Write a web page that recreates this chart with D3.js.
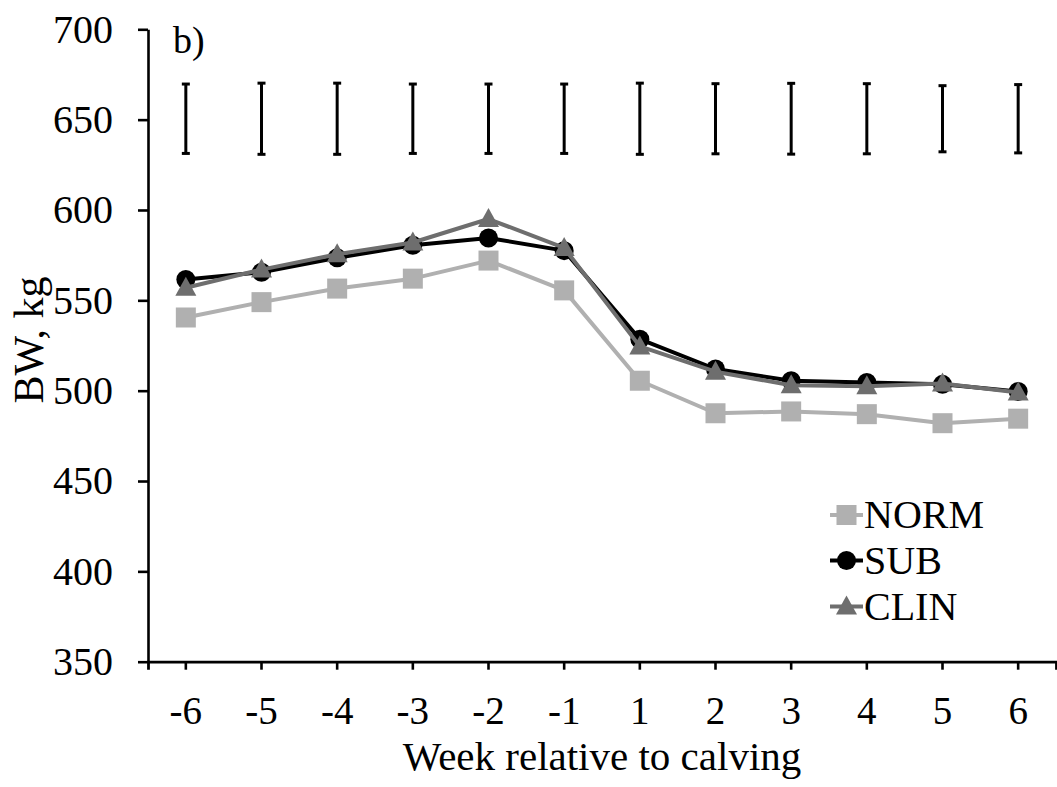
<!DOCTYPE html>
<html>
<head>
<meta charset="utf-8">
<script src="https://cdn.jsdelivr.net/npm/d3@7"></script>
<style>
  html, body { margin: 0; padding: 0; background: #fff; }
  svg { display: block; font-family: "Liberation Serif", "Times New Roman", serif; }
</style>
</head>
<body>
<svg id="chart" width="1057" height="787"></svg>
<script>
// ---- data ----
const weeks = ["-6", "-5", "-4", "-3", "-2", "-1", "1", "2", "3", "4", "5", "6"];
const normValues = [540.5, 549, 556.5, 562, 572, 555.5, 505.5, 487.5, 488.5, 487, 482, 484.5];
const subValues  = [561.5, 565.5, 573.5, 580.5, 584.5, 577.5, 528.5, 512, 505.5, 504.5, 503.5, 499.5];
const clinValues = [557, 567, 575.5, 582, 595, 579, 524.5, 510.5, 503, 502.5, 504, 499];
const errCenter = [650.5, 650.5, 650.5, 650.5, 650.5, 650.5, 650.5, 650.5, 650.5, 650.5, 650.5, 650.5];
const errSem    = [19.2, 19.7, 19.7, 19.2, 19.2, 19.2, 19.7, 19.4, 19.6, 19.4, 18.3, 18.9];
const yTicks = [350, 400, 450, 500, 550, 600, 650, 700];
const seriesNames = ["NORM", "SUB", "CLIN"];
const panelLabel = "b)";
const xTitle = "Week relative to calving";
const yTitle = "BW, kg";

// ---- layout ----
const mLeft = 148, mRight = 1056, mTop = 29.3, mBottom = 661.7;
const svg = d3.select("#chart");

const x = d3.scaleBand().domain(weeks).range([mLeft, mRight]).padding(0);
const y = d3.scaleLinear().domain([350, 700]).range([mBottom, mTop]);
const cx = w => x(w) + x.bandwidth() / 2;

const series = [
  { name: seriesNames[0], values: normValues, color: "#b0b0b0", shape: "square" },
  { name: seriesNames[1], values: subValues,  color: "#000000", shape: "circle" },
  { name: seriesNames[2], values: clinValues, color: "#6e6e6e", shape: "triangle" }
];

function drawMarker(g, shape, color, px, py) {
  if (shape === "square") {
    g.append("rect").attr("x", px - 10).attr("y", py - 10).attr("width", 20).attr("height", 20).attr("fill", color);
  } else if (shape === "circle") {
    g.append("circle").attr("cx", px).attr("cy", py).attr("r", 9.5).attr("fill", color);
  } else {
    g.append("path").attr("d", `M${px},${py - 11}L${px + 10.5},${py + 8}L${px - 10.5},${py + 8}Z`).attr("fill", color);
  }
}

// ---- axes ----
const yAxis = d3.axisLeft(y).tickValues(yTicks).tickSize(10).tickSizeOuter(0).tickPadding(25).tickFormat(d3.format("d"));
const gy = svg.append("g").attr("transform", `translate(${mLeft},0)`).call(yAxis);
gy.select(".domain").attr("stroke", "#000").attr("stroke-width", 2.6);
gy.selectAll(".tick line").attr("stroke", "#000").attr("stroke-width", 2.6);
gy.selectAll(".tick text").attr("font-size", 40).attr("font-family", "Liberation Serif").attr("fill", "#000");

const xAxis = d3.axisBottom(x).tickSize(8).tickSizeOuter(8);
const gx = svg.append("g").attr("transform", `translate(0,${mBottom})`).call(xAxis);
gx.select(".domain").attr("stroke", "#000").attr("stroke-width", 2.8);
gx.selectAll(".tick line").attr("stroke", "#000").attr("stroke-width", 2.6);
gx.selectAll(".tick text").attr("font-size", 39).attr("font-family", "Liberation Serif").attr("fill", "#000")
  .attr("y", 62).attr("dy", 0);

// ---- error bars ----
const eg = svg.append("g");
weeks.forEach((w, i) => {
  const px = cx(w);
  const yt = y(errCenter[i] + errSem[i]), yb = y(errCenter[i] - errSem[i]);
  eg.append("line").attr("x1", px).attr("x2", px).attr("y1", yt).attr("y2", yb).attr("stroke", "#000").attr("stroke-width", 3);
  eg.append("line").attr("x1", px - 4).attr("x2", px + 4).attr("y1", yt).attr("y2", yt).attr("stroke", "#000").attr("stroke-width", 3);
  eg.append("line").attr("x1", px - 4).attr("x2", px + 4).attr("y1", yb).attr("y2", yb).attr("stroke", "#000").attr("stroke-width", 3);
});

// ---- series ----
const line = d3.line().x(d => cx(d.w)).y(d => y(d.v));
series.forEach(s => {
  const g = svg.append("g");
  const pts = weeks.map((w, i) => ({ w, v: s.values[i] }));
  g.append("path").datum(pts).attr("d", line).attr("fill", "none").attr("stroke", s.color).attr("stroke-width", 4).attr("stroke-linejoin", "round");
  pts.forEach(p => drawMarker(g, s.shape, s.color, cx(p.w), y(p.v)));
});

// ---- legend ----
const legendRows = [515, 560.5, 606.5];
series.forEach((s, i) => {
  const g = svg.append("g");
  const ly = legendRows[i];
  g.append("line").attr("x1", 830).attr("x2", 863).attr("y1", ly).attr("y2", ly).attr("stroke", s.color).attr("stroke-width", 4);
  drawMarker(g, s.shape, s.color, 846.5, ly);
  g.append("text").attr("x", 864).attr("y", ly + 13.3).attr("font-size", 40).attr("fill", "#000").text(s.name);
});

// ---- titles ----
svg.append("text").attr("x", 173).attr("y", 53).attr("font-size", 38).attr("fill", "#000").text(panelLabel);
svg.append("text").attr("x", (mLeft + mRight) / 2).attr("y", 770).attr("text-anchor", "middle").attr("font-size", 41).attr("fill", "#000").text(xTitle);
svg.append("text").attr("transform", "translate(43,340) rotate(-90)").attr("text-anchor", "middle").attr("font-size", 42).attr("fill", "#000").text(yTitle);
</script>
</body>
</html>
